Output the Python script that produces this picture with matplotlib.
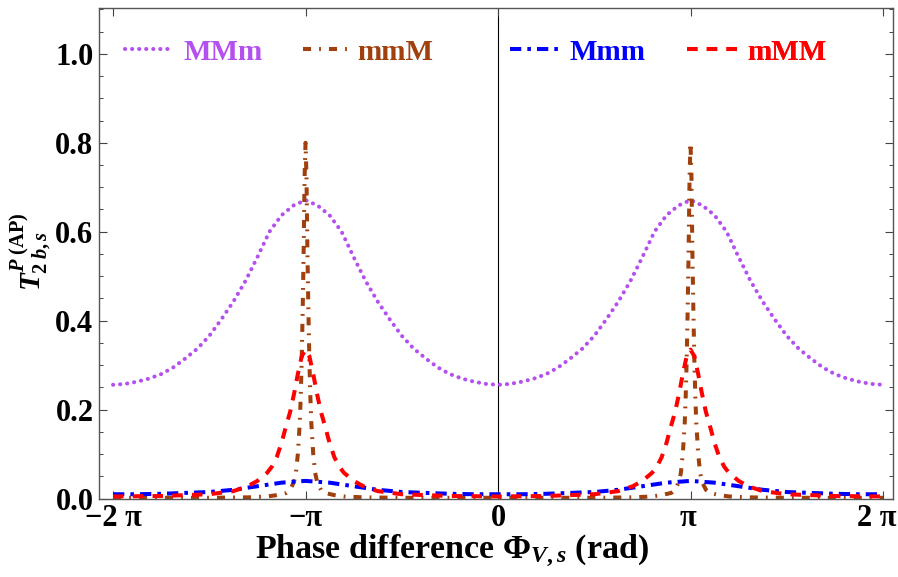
import numpy as np
import matplotlib
matplotlib.use("Agg")
import matplotlib.pyplot as plt
import matplotlib.transforms as mtransforms
from matplotlib.ticker import MultipleLocator, FixedLocator

plt.rcParams['font.family'] = ['Liberation Serif', 'DejaVu Serif']
plt.rcParams['font.weight'] = 'bold'
plt.rcParams['mathtext.fontset'] = 'custom'
plt.rcParams['mathtext.rm'] = 'Liberation Serif:bold'
plt.rcParams['mathtext.it'] = 'Liberation Serif:italic:bold'
plt.rcParams['mathtext.bf'] = 'Liberation Serif:bold'

# ---------------- data (x in units of pi) ----------------
x_MMm = np.linspace(-2, 2, 65)
y_MMm = [0.256, 0.258, 0.263, 0.270, 0.280, 0.295, 0.315, 0.337, 0.366, 0.403, 0.443, 0.489, 0.543, 0.600, 0.637, 0.659, 0.671,
         0.659, 0.637, 0.600, 0.543, 0.489, 0.443, 0.403, 0.366, 0.337, 0.315, 0.295, 0.280, 0.270, 0.263, 0.258, 0.256,
         0.258, 0.263, 0.270, 0.280, 0.295, 0.315, 0.337, 0.366, 0.403, 0.443, 0.489, 0.543, 0.600, 0.637, 0.659, 0.671,
         0.659, 0.637, 0.600, 0.543, 0.489, 0.443, 0.403, 0.366, 0.337, 0.315, 0.295, 0.280, 0.270, 0.263, 0.258, 0.256]

x_mmM = [-2, -1.5, -1.3, -1.2, -1.15, -1.1, -1.08, -1.06, -1.05, -1.04, -1.03, -1.025, -1.02, -1.015, -1.01, -1.005,
         -1, -0.995, -0.99, -0.985, -0.98, -0.975, -0.97, -0.96, -0.95, -0.94, -0.92, -0.9, -0.85, -0.8, -0.7, -0.5,
         0, 0.5, 0.7, 0.8, 0.85, 0.9, 0.92, 0.94, 0.95, 0.96, 0.97, 0.975, 0.98, 0.985, 0.99, 0.995,
         1, 1.005, 1.01, 1.015, 1.02, 1.025, 1.03, 1.04, 1.05, 1.06, 1.08, 1.1, 1.15, 1.2, 1.3, 1.5, 2]
y_mmM = [0.002, 0.002, 0.003, 0.005, 0.008, 0.013, 0.020, 0.038, 0.058, 0.100, 0.170, 0.230, 0.310, 0.420, 0.550, 0.720,
         0.800, 0.720, 0.550, 0.420, 0.310, 0.230, 0.170, 0.100, 0.058, 0.038, 0.020, 0.013, 0.008, 0.005, 0.003, 0.002,
         0.002, 0.002, 0.003, 0.005, 0.008, 0.013, 0.020, 0.038, 0.058, 0.100, 0.170, 0.230, 0.310, 0.420, 0.550, 0.720,
         0.800, 0.720, 0.550, 0.420, 0.310, 0.230, 0.170, 0.100, 0.058, 0.038, 0.020, 0.013, 0.008, 0.005, 0.003, 0.002, 0.002]

x_Mmm = np.linspace(-2, 2, 33)
y_Mmm = [0.010, 0.010, 0.011, 0.013, 0.015, 0.020, 0.028, 0.036, 0.040, 0.036, 0.028, 0.020, 0.015, 0.013, 0.011, 0.010,
         0.010, 0.010, 0.011, 0.013, 0.015, 0.020, 0.028, 0.036, 0.040, 0.036, 0.028, 0.020, 0.015, 0.013, 0.011, 0.010, 0.010]

x_mMM = [-2, -1.75, -1.5, -1.375, -1.3, -1.25, -1.2, -1.175, -1.15, -1.125, -1.1, -1.08, -1.06, -1.04, -1.02,
         -1, -0.98, -0.96, -0.94, -0.92, -0.9, -0.875, -0.85, -0.825, -0.8, -0.75, -0.7, -0.625, -0.5, -0.25,
         0, 0.25, 0.5, 0.625, 0.7, 0.75, 0.8, 0.825, 0.85, 0.875, 0.9, 0.92, 0.94, 0.96, 0.98,
         1, 1.02, 1.04, 1.06, 1.08, 1.1, 1.125, 1.15, 1.175, 1.2, 1.25, 1.3, 1.375, 1.5, 1.75, 2]
y_mMM = [0.005, 0.006, 0.010, 0.017, 0.028, 0.040, 0.058, 0.072, 0.093, 0.125, 0.165, 0.195, 0.235, 0.280, 0.320,
         0.335, 0.320, 0.280, 0.235, 0.195, 0.165, 0.125, 0.093, 0.072, 0.058, 0.040, 0.028, 0.017, 0.010, 0.006,
         0.005, 0.006, 0.010, 0.017, 0.028, 0.040, 0.058, 0.072, 0.093, 0.125, 0.165, 0.195, 0.235, 0.280, 0.320,
         0.335, 0.320, 0.280, 0.235, 0.195, 0.165, 0.125, 0.093, 0.072, 0.058, 0.040, 0.028, 0.017, 0.010, 0.006, 0.005]

labels = ["MMm", "mmM", "Mmm", "mMM"]
xtick_vals = [-2, -1, 0, 1, 2]
xtick_labels = ["\u22122 \u03c0", "\u2212\u03c0", "0", "\u03c0", "2 \u03c0"]
ytick_vals = [0.0, 0.2, 0.4, 0.6, 0.8, 1.0]

# ---------------- figure ----------------
W, H = 898, 577
fig = plt.figure(figsize=(W/100, H/100), dpi=100)
AX_L, AX_R, AX_T, AX_B = 99, 893, 7.5, 499
ax = fig.add_axes([AX_L/W, 1 - AX_B/H, (AX_R - AX_L)/W, (AX_B - AX_T)/H])

lw = 2.9
c_pur, c_brn, c_blu, c_red = '#B450F0', '#A0400C', '#0000FF', '#FF0000'
pi = np.pi

l1, = ax.plot(np.array(x_MMm)*pi, y_MMm, color=c_pur, lw=lw, linestyle=(0, (0.05, 1.7)),
              dash_capstyle='round', clip_on=False, label=labels[0])
l2, = ax.plot(np.array(x_mmM)*pi, y_mmM, color=c_brn, lw=lw, linestyle=(0, (2.0, 2.0, 0.45, 2.0)),
              clip_on=False, label=labels[1])
l3, = ax.plot(np.array(x_Mmm)*pi, y_Mmm, color=c_blu, lw=lw, linestyle=(0, (2.8, 1.5, 0.9, 1.5)),
              clip_on=False, label=labels[2])
l4, = ax.plot(np.array(x_mMM)*pi, y_mMM, color=c_red, lw=lw, linestyle=(0, (2.6, 2.3)),
              clip_on=False, label=labels[3])

ax.axvline(0, color='black', lw=0.8, zorder=0)

ax.set_xlim(-2.073*pi, 2.052*pi)
ax.set_ylim(-0.0007, 1.104)

ax.xaxis.set_major_locator(FixedLocator(np.array(xtick_vals)*pi))
ax.set_xticklabels([])
ax.yaxis.set_major_locator(FixedLocator(ytick_vals))
ax.yaxis.set_minor_locator(MultipleLocator(0.05))
ax.set_yticklabels([f"{v:.1f}" for v in ytick_vals])

ax.tick_params(axis='both', which='both', direction='in', top=True, right=True, color='#444444')
ax.tick_params(axis='both', which='major', length=5.5, width=0.8, labelsize=22)
ax.tick_params(axis='y', which='minor', length=3, width=0.7)
ax.tick_params(axis='y', which='major', pad=4)
for s in ax.spines.values():
    s.set_color('#555555')
    s.set_linewidth(1.0)

# x tick labels drawn as text (last one nudged left so it stays inside the image)
xtrans = ax.get_xaxis_transform()
nudges = [0, 0, 0, -3, -6]
for xv, lab, dx in zip(xtick_vals, xtick_labels, nudges):
    tr = xtrans + mtransforms.ScaledTranslation(dx/100, 0, fig.dpi_scale_trans)
    ax.text(xv*pi, (AX_B - 519)/(AX_B - AX_T), lab, transform=tr, ha='center', va='center',
            fontsize=22, fontweight='bold', clip_on=False)

fig.text(452/W, 1 - 551/H, r"Phase difference $\Phi_{V,s}$ (rad)", fontsize=24.5, fontweight='bold',
         ha='center', va='center')
fig.text(31/W, 1 - 252/H, r"$T^{P\;(\mathrm{AP})}_{2\;b,s}$", fontsize=21, rotation=90,
         ha='center', va='center')

# legend entries: (line, colour, handle start px, handle length px, text pad px)
leg_specs = [(l1, c_pur, 125, 45, 13), (l2, c_brn, 303, 47, 7), (l3, c_blu, 510, 53, 7), (l4, c_red, 687, 53, 7)]
fs_leg = 21
em = fs_leg * 100 / 72
for line, col, x0, hl, pad in leg_specs:
    lg = ax.legend(handles=[line], loc='center left',
                   bbox_to_anchor=((x0 - AX_L)/(AX_R - AX_L), (AX_B - 52)/(AX_B - AX_T)),
                   frameon=False, borderpad=0, borderaxespad=0, handlelength=hl/em, handletextpad=pad/em,
                   prop={'family': 'Liberation Serif', 'weight': 'bold', 'size': fs_leg})
    for t in lg.get_texts():
        t.set_color(col)
    ax.add_artist(lg)

fig.savefig("out.png", dpi=100)
